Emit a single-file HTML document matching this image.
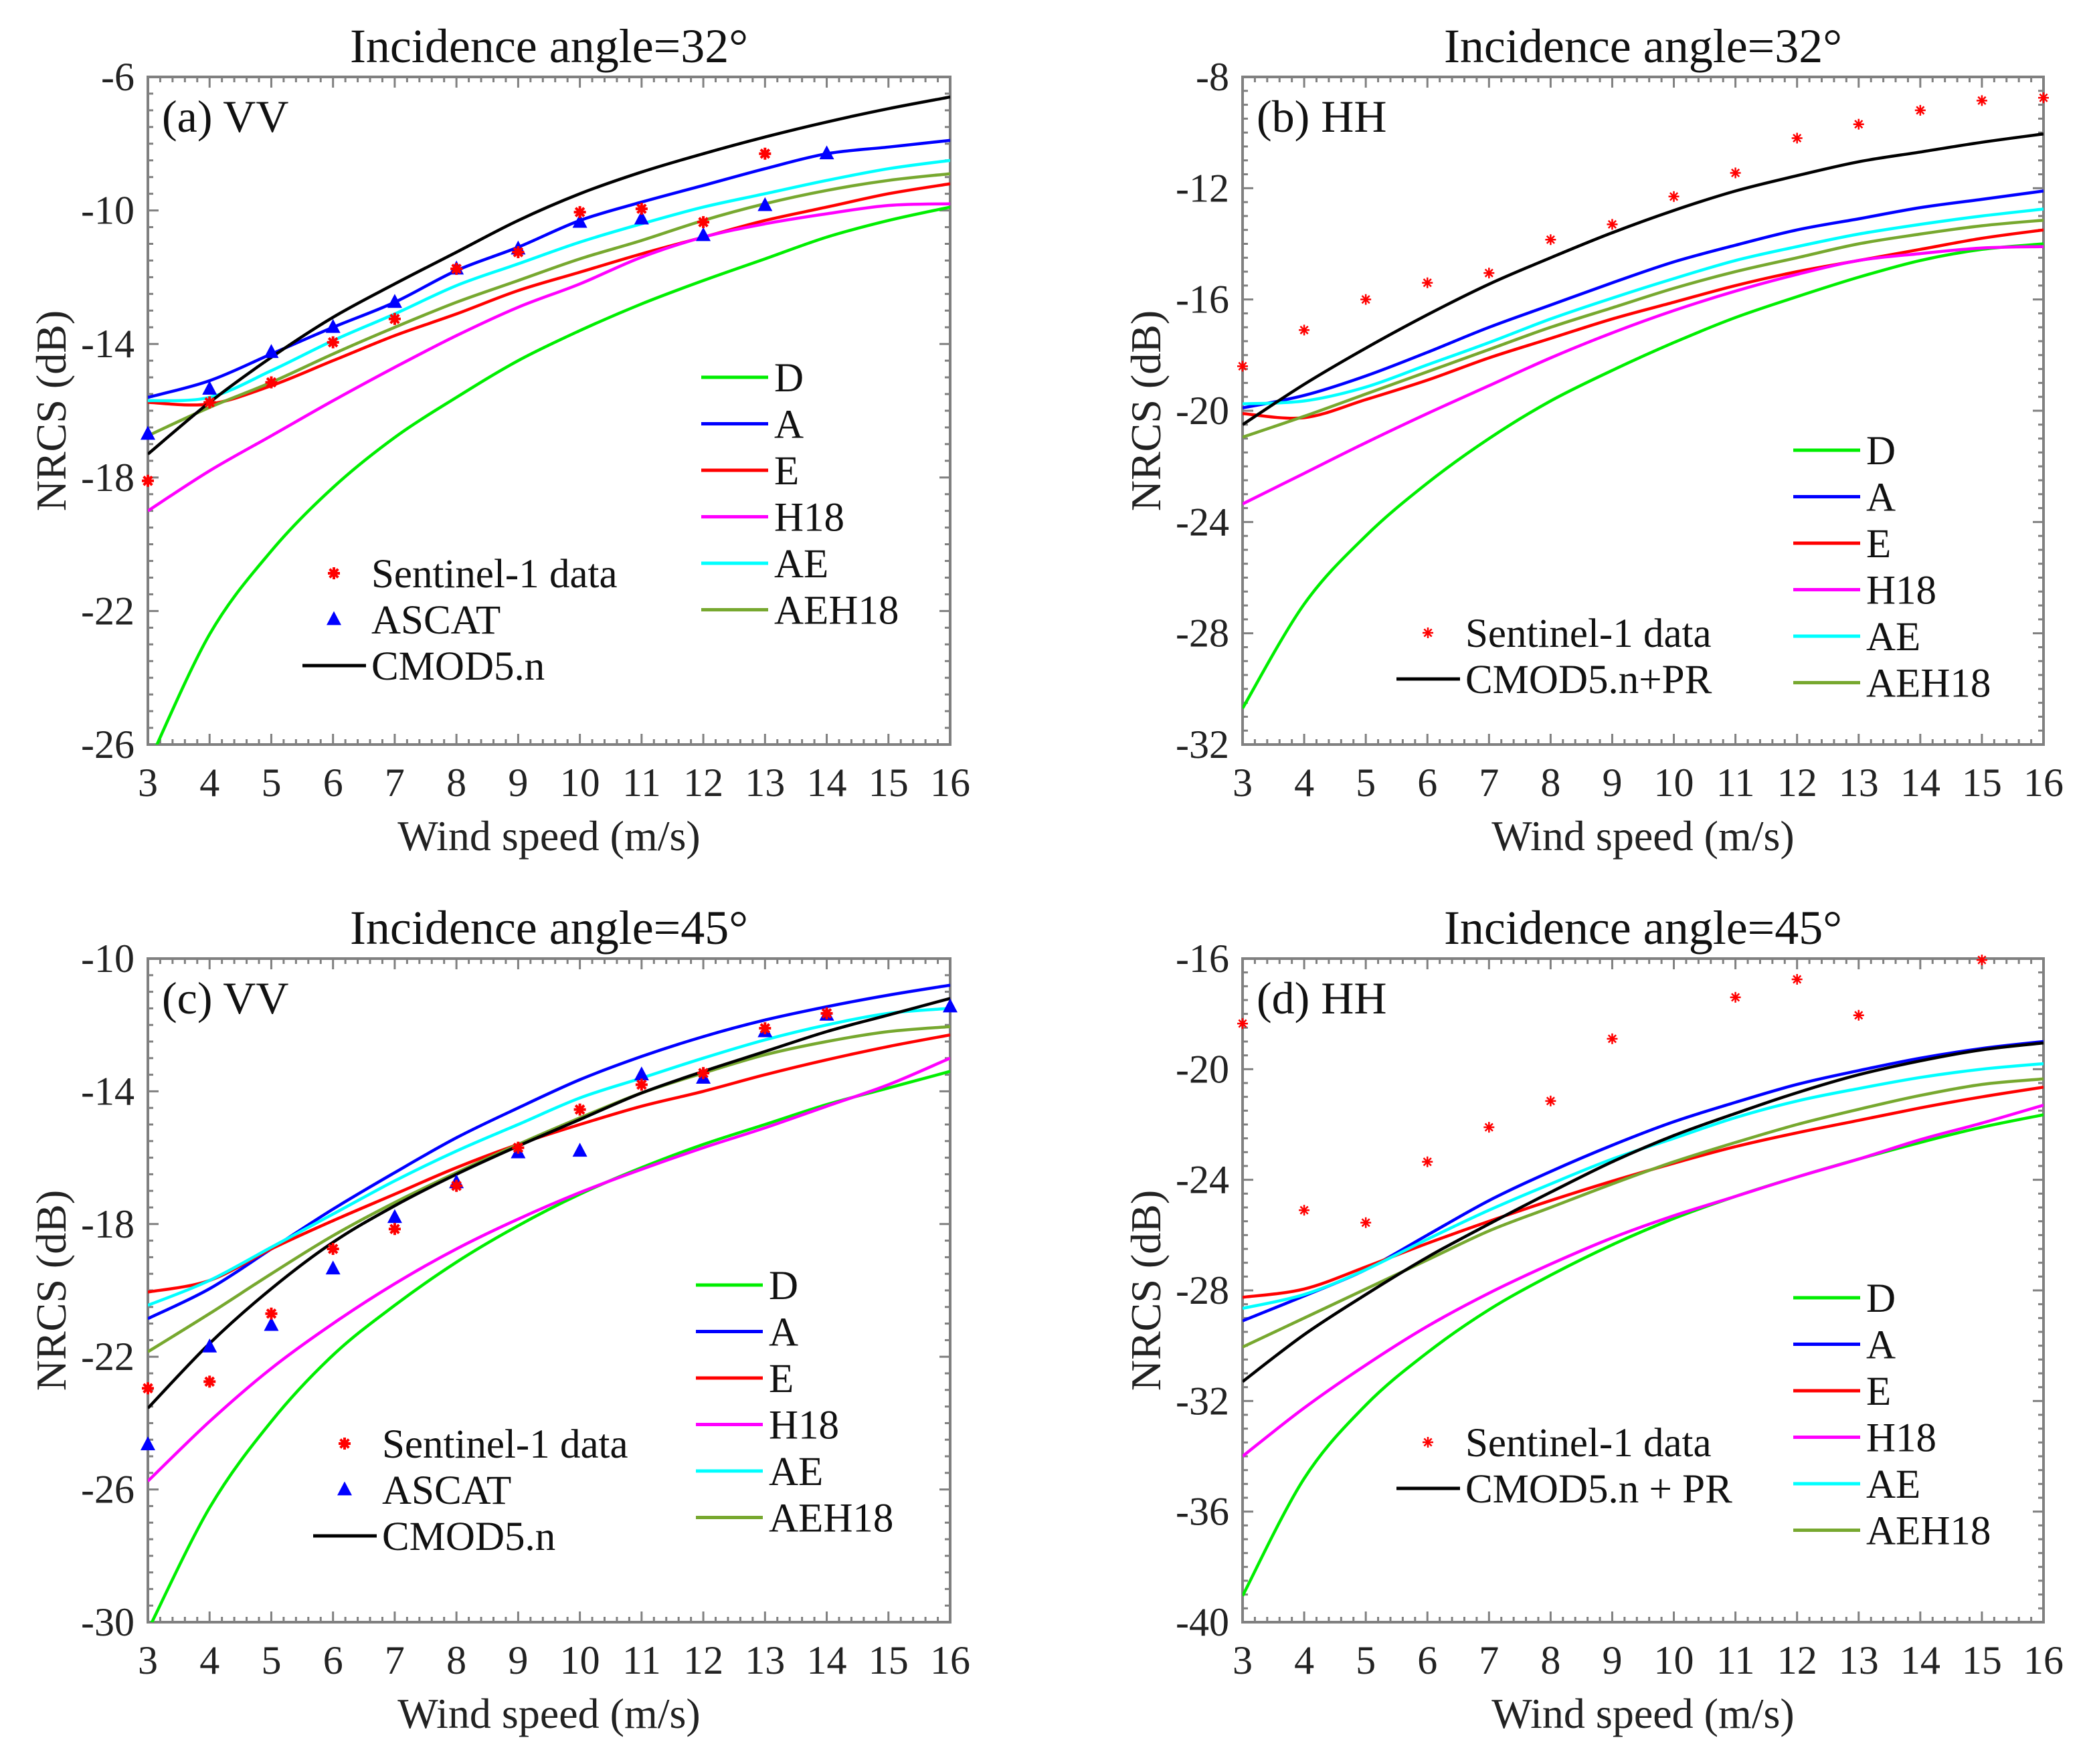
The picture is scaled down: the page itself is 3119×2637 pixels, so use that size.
<!DOCTYPE html>
<html><head><meta charset="utf-8">
<style>
html,body{margin:0;padding:0;background:#fff;}
svg{display:block;font-family:"Liberation Serif","Times New Roman",serif;}
</style></head>
<body>
<svg id="fig" width="3119" height="2637" viewBox="0 0 3119 2637" xmlns="http://www.w3.org/2000/svg"></svg>
<script>
const windSpeeds = [3,4,5,6,7,8,9,10,11,12,13,14,15,16];
const xTicks = [3,4,5,6,7,8,9,10,11,12,13,14,15,16];

// Panel (a) VV 32°
const aD     = [-26.6,-22.7,-20.2,-18.3,-16.8,-15.6,-14.5,-13.6,-12.8,-12.1,-11.45,-10.8,-10.3,-9.9];
const aA     = [-15.6,-15.1,-14.3,-13.5,-12.75,-11.8,-11.1,-10.3,-9.75,-9.25,-8.75,-8.3,-8.1,-7.9];
const aE     = [-15.75,-15.8,-15.25,-14.5,-13.75,-13.1,-12.4,-11.85,-11.3,-10.8,-10.3,-9.9,-9.5,-9.2];
const aH18   = [-19,-17.8,-16.75,-15.7,-14.7,-13.75,-12.9,-12.2,-11.4,-10.8,-10.4,-10.1,-9.85,-9.8];
const aAE    = [-15.7,-15.6,-14.8,-13.9,-13.1,-12.25,-11.6,-10.95,-10.4,-9.9,-9.5,-9.1,-8.75,-8.5];
const aAEH18 = [-16.75,-15.9,-15.15,-14.3,-13.5,-12.75,-12.1,-11.45,-10.9,-10.3,-9.8,-9.4,-9.1,-8.9];
const aCMOD  = [-17.3,-15.75,-14.4,-13.2,-12.2,-11.25,-10.3,-9.5,-8.85,-8.3,-7.8,-7.35,-6.95,-6.6];
const aS1x   = [3,4,5,6,7,8,9,10,11,12,13];
const aS1    = [-18.1,-15.75,-15.15,-13.95,-13.25,-11.75,-11.25,-10.05,-9.95,-10.35,-8.3];
const aASx   = [3,4,5,6,7,8,9,10,11,12,13,14];
const aAS    = [-16.7,-15.35,-14.25,-13.5,-12.75,-11.75,-11.15,-10.35,-10.25,-10.75,-9.85,-8.3];
const aYTicks = [-6,-10,-14,-18,-22,-26];

// Panel (b) HH 32°
const bD     = [-30.7,-26.95,-24.5,-22.6,-21.0,-19.65,-18.55,-17.55,-16.65,-15.9,-15.2,-14.6,-14.2,-14.0];
const bA     = [-19.9,-19.45,-18.75,-17.9,-17.0,-16.2,-15.4,-14.65,-14.05,-13.5,-13.1,-12.7,-12.4,-12.1];
const bE     = [-20.1,-20.25,-19.6,-18.9,-18.1,-17.4,-16.7,-16.1,-15.5,-15.0,-14.6,-14.2,-13.8,-13.5];
const bH18   = [-23.35,-22.25,-21.15,-20.1,-19.1,-18.1,-17.2,-16.4,-15.7,-15.1,-14.6,-14.35,-14.15,-14.1];
const bAE    = [-19.75,-19.65,-19.15,-18.35,-17.55,-16.7,-15.95,-15.25,-14.6,-14.1,-13.65,-13.3,-13.0,-12.75];
const bAEH18 = [-20.95,-20.2,-19.4,-18.6,-17.8,-17.0,-16.3,-15.6,-15.0,-14.5,-14.0,-13.65,-13.35,-13.15];
const bCMOD  = [-20.5,-19.05,-17.75,-16.55,-15.45,-14.5,-13.6,-12.8,-12.1,-11.55,-11.05,-10.7,-10.35,-10.05];
const bS1x   = [3,4,5,6,7,8,9,10,11,12,13,14,15,16];
const bS1    = [-18.4,-17.1,-16.0,-15.4,-15.05,-13.85,-13.3,-12.3,-11.45,-10.2,-9.7,-9.2,-8.85,-8.75];
const bYTicks = [-8,-12,-16,-20,-24,-28,-32];

// Panel (c) VV 45°
const cD     = [-30.25,-26.55,-23.95,-21.95,-20.45,-19.15,-18.05,-17.1,-16.3,-15.6,-15.0,-14.4,-13.9,-13.4];
const cA     = [-20.85,-19.95,-18.75,-17.55,-16.45,-15.4,-14.5,-13.65,-12.95,-12.35,-11.85,-11.45,-11.1,-10.8];
const cE     = [-20.05,-19.7,-18.75,-17.9,-17.1,-16.3,-15.6,-15.0,-14.45,-14.0,-13.5,-13.05,-12.65,-12.3];
const cH18   = [-25.75,-23.95,-22.35,-21.0,-19.8,-18.75,-17.85,-17.05,-16.35,-15.7,-15.1,-14.45,-13.8,-13.0];
const cAE    = [-20.45,-19.7,-18.7,-17.7,-16.7,-15.8,-15.0,-14.2,-13.6,-13.0,-12.45,-12.0,-11.65,-11.5];
const cAEH18 = [-21.85,-20.7,-19.5,-18.35,-17.35,-16.45,-15.6,-14.8,-14.05,-13.45,-12.9,-12.5,-12.2,-12.05];
const cCMOD  = [-23.55,-21.6,-19.95,-18.55,-17.45,-16.5,-15.65,-14.85,-14.05,-13.4,-12.8,-12.2,-11.7,-11.2];
const cS1x   = [3,4,5,6,7,8,9,10,11,12,13,14];
const cS1    = [-22.95,-22.75,-20.7,-18.75,-18.15,-16.85,-15.7,-14.55,-13.8,-13.45,-12.1,-11.65];
const cASx   = [3,4,5,6,7,8,9,10,11,12,13,14,16];
const cAS    = [-24.65,-21.7,-21.05,-19.35,-17.8,-16.75,-15.85,-15.8,-13.5,-13.6,-12.2,-11.7,-11.45];
const cYTicks = [-10,-14,-18,-22,-26,-30];

// Panel (d) HH 45°
const dD     = [-39.05,-34.8,-32.15,-30.25,-28.7,-27.45,-26.35,-25.4,-24.6,-23.9,-23.25,-22.65,-22.1,-21.65];
const dA     = [-29.1,-28.2,-27.25,-26.0,-24.75,-23.7,-22.75,-21.9,-21.2,-20.55,-20.05,-19.6,-19.25,-19.0];
const dE     = [-28.25,-27.95,-27.15,-26.3,-25.5,-24.75,-24.05,-23.4,-22.8,-22.3,-21.85,-21.4,-21.0,-20.65];
const dH18   = [-34.0,-32.25,-30.7,-29.3,-28.1,-27.05,-26.1,-25.3,-24.6,-23.9,-23.25,-22.55,-21.95,-21.3];
const dAE    = [-28.65,-28.15,-27.25,-26.15,-25.1,-24.15,-23.25,-22.5,-21.75,-21.15,-20.7,-20.3,-20.0,-19.8];
const dAEH18 = [-30.05,-29.0,-27.95,-26.9,-25.85,-25.0,-24.15,-23.35,-22.65,-22.0,-21.45,-20.95,-20.55,-20.35];
const dCMOD  = [-31.3,-29.6,-28.15,-26.8,-25.6,-24.45,-23.35,-22.4,-21.6,-20.85,-20.2,-19.7,-19.3,-19.05];
const dS1x   = [3,4,5,6,7,8,9,11,12,13,15];
const dS1    = [-18.35,-25.1,-25.55,-23.35,-22.1,-21.15,-18.9,-17.4,-16.75,-18.05,-16.05];
const dYTicks = [-16,-20,-24,-28,-32,-36,-40];

const NS='http://www.w3.org/2000/svg';
const svg=document.getElementById('fig');
function mk(tag,attrs,parent){const e=document.createElementNS(NS,tag);for(const k in attrs)e.setAttribute(k,attrs[k]);(parent||svg).appendChild(e);return e;}

const COLORS={D:'#00ee00',A:'#0000ff',E:'#ff0000',H18:'#ff00ff',AE:'#00ffff',AEH18:'#77a82f',CMOD:'#000000'};

function smoothPath(pts){
  let d='M'+pts[0][0].toFixed(1)+','+pts[0][1].toFixed(1);
  for(let i=0;i<pts.length-1;i++){
    const p0=pts[Math.max(0,i-1)],p1=pts[i],p2=pts[i+1],p3=pts[Math.min(pts.length-1,i+2)];
    const c1=[p1[0]+(p2[0]-p0[0])/6,p1[1]+(p2[1]-p0[1])/6];
    const c2=[p2[0]-(p3[0]-p1[0])/6,p2[1]-(p3[1]-p1[1])/6];
    d+=' C'+c1[0].toFixed(1)+','+c1[1].toFixed(1)+' '+c2[0].toFixed(1)+','+c2[1].toFixed(1)+' '+p2[0].toFixed(1)+','+p2[1].toFixed(1);
  }
  return d;
}

function star(g,cx,cy,r,sw){
  for(let k=0;k<4;k++){
    const a=k*Math.PI/4;
    const l=mk('line',{x1:cx-r*Math.cos(a),y1:cy-r*Math.sin(a),x2:cx+r*Math.cos(a),y2:cy+r*Math.sin(a),stroke:'#ff0000','stroke-width':sw},g);
    
    
  }
}
function tri(g,cx,cy,s){
  const p=mk('polygon',{points:(cx)+','+(cy-s*0.62)+' '+(cx-s*0.55)+','+(cy+s*0.42)+' '+(cx+s*0.55)+','+(cy+s*0.42),fill:'#0000ff'},g);
  
  
}

function panel(cfg){
  const {id,L,R,T,B,ymin,ymax,yTicks,title,tag,series,s1x,s1,asx,as,boldStar,leg}=cfg;
  const g=mk('g',{});
  
  
  const xs=v=>L+(v-3)/(16-3)*(R-L);
  const ys=v=>T+(ymax-v)/(ymax-ymin)*(B-T);
  const cx=(L+R)/2;
  const tt=mk('text',{x:cx,y:T-22,'font-size':72,'text-anchor':'middle',fill:'#111'},g);tt.textContent=title;
  
  
  // clip
  const cp=mk('clipPath',{id:'clip-'+id},g);mk('rect',{x:L,y:T,width:R-L,height:B-T},cp);
  // axes frame
  const fr=mk('rect',{x:L,y:T,width:R-L,height:B-T,fill:'none',stroke:'#808080','stroke-width':4},g);
  
  
  // ticks
  const tg=mk('g',{stroke:'#808080','stroke-width':3},g);
  
  
  for(let v=3;v<=16.001;v+=0.2){
    const major=Math.abs(v-Math.round(v))<1e-6; const len=major?16:8; const x=xs(v);
    mk('line',{x1:x,y1:B,x2:x,y2:B-len},tg);mk('line',{x1:x,y1:T,x2:x,y2:T+len},tg);
  }
  for(let v=ymin;v<=ymax+1e-6;v+=0.5){
    const major=yTicks.some(t=>Math.abs(t-v)<1e-6); const len=major?16:8; const y=ys(v);
    mk('line',{x1:L,y1:y,x2:L+len,y2:y},tg);mk('line',{x1:R,y1:y,x2:R-len,y2:y},tg);
  }
  xTicks.forEach(v=>{const t=mk('text',{x:xs(v),y:B+77,'font-size':60,'text-anchor':'middle',fill:'#222'},g);t.textContent=v;
    
    });
  yTicks.forEach(v=>{const t=mk('text',{x:L-20,y:ys(v)+20,'font-size':60,'text-anchor':'end',fill:'#222'},g);t.textContent=v;
    
    });
  const xl=mk('text',{x:cx,y:B+158,'font-size':64,'text-anchor':'middle',fill:'#222'},g);xl.textContent='Wind speed (m/s)';
  
  
  const ym=(T+B)/2;
  const yl=mk('text',{x:L-123,y:ym,'font-size':64,'text-anchor':'middle',fill:'#222',transform:'rotate(-90 '+(L-123)+' '+ym+')'},g);yl.textContent='NRCS (dB)';
  
  
  const pl=mk('text',{x:L+21,y:T+82,'font-size':68,fill:'#111'},g);pl.textContent=tag;
  
  
  // lines
  const lg=mk('g',{'clip-path':'url(#clip-'+id+')'},g);
  series.forEach(s=>{
    const pts=windSpeeds.map((w,i)=>[xs(w),ys(s.v[i])]);
    const p=mk('path',{d:smoothPath(pts),fill:'none',stroke:COLORS[s.k],'stroke-width':4.5,'stroke-linejoin':'round'},lg);
    
    
  });
  const mg=mk('g',{},g);
  
  
  if(asx) asx.forEach((w,i)=>tri(mg,xs(w),ys(as[i]),20));
  s1x.forEach((w,i)=>star(mg,xs(w),ys(s1[i]),boldStar?9:8,boldStar?4:2.5));
  // legends
  const names={D:'D',A:'A',E:'E',H18:'H18',AE:'AE',AEH18:'AEH18'};
  ['D','A','E','H18','AE','AEH18'].forEach((k,i)=>{
    const y=leg.ry+i*69.5;
    const e=mk('g',{},g);
    
    
    mk('line',{x1:leg.rx,y1:y,x2:leg.rx+100,y2:y,stroke:COLORS[k],'stroke-width':5},e);
    const t=mk('text',{x:leg.rx+109,y:y+21,'font-size':61,fill:'#111'},e);t.textContent=names[k];
  });
  let ly=leg.ly;
  const e1=mk('g',{},g);
  
  
  star(e1,leg.lx,ly,boldStar?9:8,boldStar?4:2.5);
  const t1=mk('text',{x:leg.lx+56,y:ly+21,'font-size':61,fill:'#111'},e1);t1.textContent='Sentinel-1 data';
  ly+=69;
  if(asx){
    const e2=mk('g',{},g);
    
    
    tri(e2,leg.lx,ly,20);
    const t2=mk('text',{x:leg.lx+56,y:ly+21,'font-size':61,fill:'#111'},e2);t2.textContent='ASCAT';
    ly+=69;
  }
  const e3=mk('g',{},g);
  
  
  mk('line',{x1:leg.lx-47,y1:ly,x2:leg.lx+48,y2:ly,stroke:'#000','stroke-width':5},e3);
  const t3=mk('text',{x:leg.lx+56,y:ly+21,'font-size':61,fill:'#111'},e3);t3.textContent=leg.cmod;
}

function S(D,A,E,H,AE,AEH,C){return [{k:'D',v:D},{k:'A',v:A},{k:'E',v:E},{k:'H18',v:H},{k:'AE',v:AE},{k:'AEH18',v:AEH},{k:'CMOD',v:C}];}

panel({id:'a',L:221,R:1420,T:115,B:1113,ymin:-26,ymax:-6,yTicks:aYTicks,title:'Incidence angle=32°',tag:'(a) VV',
  series:S(aD,aA,aE,aH18,aAE,aAEH18,aCMOD),s1x:aS1x,s1:aS1,asx:aASx,as:aAS,boldStar:true,
  leg:{rx:1048,ry:564,lx:499,ly:857,cmod:'CMOD5.n'}});
panel({id:'b',L:1857,R:3054,T:115,B:1113,ymin:-32,ymax:-8,yTicks:bYTicks,title:'Incidence angle=32°',tag:'(b) HH',
  series:S(bD,bA,bE,bH18,bAE,bAEH18,bCMOD),s1x:bS1x,s1:bS1,asx:null,as:null,boldStar:false,
  leg:{rx:2680,ry:673,lx:2134,ly:946,cmod:'CMOD5.n+PR'}});
panel({id:'c',L:221,R:1420,T:1433,B:2425,ymin:-30,ymax:-10,yTicks:cYTicks,title:'Incidence angle=45°',tag:'(c) VV',
  series:S(cD,cA,cE,cH18,cAE,cAEH18,cCMOD),s1x:cS1x,s1:cS1,asx:cASx,as:cAS,boldStar:true,
  leg:{rx:1040,ry:1921,lx:515,ly:2158,cmod:'CMOD5.n'}});
panel({id:'d',L:1857,R:3054,T:1433,B:2425,ymin:-40,ymax:-16,yTicks:dYTicks,title:'Incidence angle=45°',tag:'(d) HH',
  series:S(dD,dA,dE,dH18,dAE,dAEH18,dCMOD),s1x:dS1x,s1:dS1,asx:null,as:null,boldStar:false,
  leg:{rx:2680,ry:1940,lx:2134,ly:2156,cmod:'CMOD5.n + PR'}});
</script>
</body></html>
